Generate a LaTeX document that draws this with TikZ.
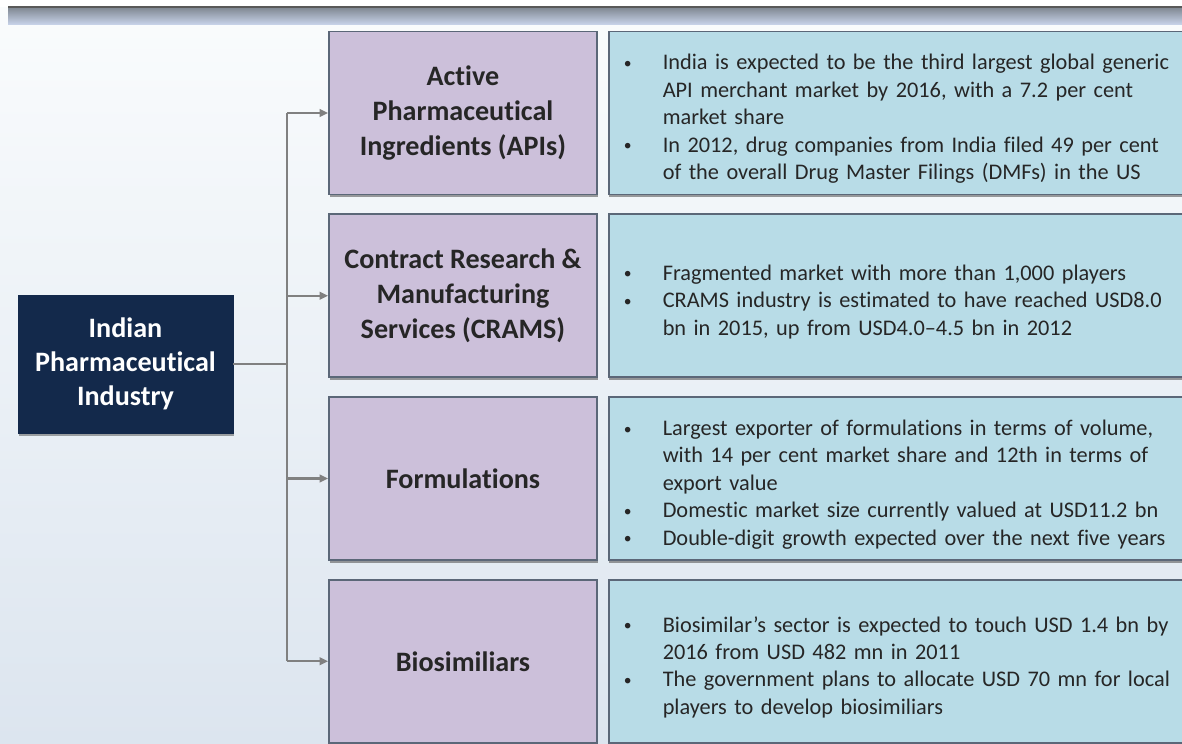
\documentclass[tikz,border=0pt]{standalone}
\usepackage{fontspec}
\setmainfont{Carlito}[Ligatures={TeX,NoCommon}]
\usetikzlibrary{positioning,shadows,arrows.meta}

\definecolor{navy}{HTML}{13294B}
\definecolor{lilac}{HTML}{CCC0DA}
\definecolor{paleblue}{HTML}{B8DCE7}
\definecolor{edgegray}{HTML}{5B6778}
\definecolor{bgtop}{HTML}{FAFCFD}
\definecolor{bgbottom}{HTML}{DCE5EF}
\definecolor{bandtop}{HTML}{7E8690}
\definecolor{bandmid}{HTML}{B9C5DA}
\definecolor{bandlow}{HTML}{CAD5EC}

% one bullet point with a hanging indent
\newcommand{\bul}[1]{\par\noindent\hangindent=0.78cm\hangafter=1%
  \makebox[0.78cm][l]{\raisebox{0.12ex}{\scalebox{0.7}{\textbullet}}}#1\par}

\tikzset{
  sector/.style={draw=edgegray, line width=1pt, fill=lilac, minimum width=5.36cm,
    minimum height=3.26cm, align=center, text=black!85,
    font=\bfseries\fontsize{16}{19.9}\selectfont,
    drop shadow={shadow xshift=0.4pt, shadow yshift=-1.6pt, opacity=0.55, fill=black!70}},
  facts/.style={draw=edgegray, line width=1pt, fill=paleblue, text width=11.1cm,
    inner xsep=0.3cm, minimum height=3.26cm, align=left, text=black!85,
    font=\fontsize{12.7}{15.6}\selectfont,
    drop shadow={shadow xshift=0.4pt, shadow yshift=-1.6pt, opacity=0.55, fill=black!70}},
  link/.style={draw=black!50, line width=1.3pt},
}

\begin{document}
\begin{tikzpicture}
\path[use as bounding box, clip] (0,0) rectangle (23.64,14.86);

%background and title band
\shade[top color=bgtop, bottom color=bgbottom] (0,0) rectangle (23.64,14.86);
\fill[white] (0,14.72) rectangle (23.64,14.86);
\shade[top color=bandtop, middle color=bandmid, bottom color=bandlow] (0.16,14.72) rectangle (23.64,14.36);
\draw[black!65, line width=1pt] (0.16,14.72) -- (23.64,14.72);

%industry box
\node[fill=navy, draw=navy, text=white, minimum width=4.3cm, minimum height=2.76cm,
  align=center, font=\bfseries\fontsize{16}{19.4}\selectfont,
  drop shadow={shadow xshift=0.4pt, shadow yshift=-1.6pt, opacity=0.5, fill=black!70}]
  (ind) at (2.51,7.58) {Indian\\Pharmaceutical\\Industry};

%sectors
\node[sector] (api) at (9.26,12.60) {Active\\Pharmaceutical\\Ingredients (APIs)};
\node[sector, below=0.36cm of api] (crams) {Contract Research \&\\Manufacturing\\Services (CRAMS)};
\node[sector, below=0.36cm of crams] (form) {Formulations};
\node[sector, below=0.36cm of form] (bio) {Biosimiliars};

%facts next to each sector
\node[facts, right=0.2cm of api] (apifacts) {%
  \bul{India is expected to be the third largest global generic\newline API merchant market by 2016, with a 7.2 per cent\newline market share}
  \bul{In 2012, drug companies from India filed 49 per cent\newline of the overall Drug Master Filings (DMFs) in the US}};
\node[facts, right=0.2cm of crams] (cramsfacts) {%
  \bul{Fragmented market with more than 1,000 players}
  \bul{CRAMS industry is estimated to have reached USD8.0\newline bn in 2015, up from USD4.0–4.5 bn in 2012}};
\node[facts, right=0.2cm of form] (formfacts) {%
  \bul{Largest exporter of formulations in terms of volume,\newline with 14 per cent market share and 12th in terms of\newline export value}
  \bul{Domestic market size currently valued at USD11.2 bn}
  \bul{Double-digit growth expected over the next five years}};
\node[facts, right=0.2cm of bio] (biofacts) {%
  \bul{Biosimilar’s sector is expected to touch USD 1.4 bn by\newline 2016 from USD 482 mn in 2011}
  \bul{The government plans to allocate USD 70 mn for local\newline players to develop biosimiliars}};

%tree connectors
\coordinate (trunk) at (5.74,7.58);
\draw[link] (ind.east) -- (trunk);
\draw[link] (trunk |- api.west) -- (trunk |- bio.west);
\foreach \s in {api,crams,form,bio}
  \draw[link, -{Triangle[length=1.7mm,width=1.5mm]}] (trunk |- \s.west) -- (\s.west);

\end{tikzpicture}
\end{document}
